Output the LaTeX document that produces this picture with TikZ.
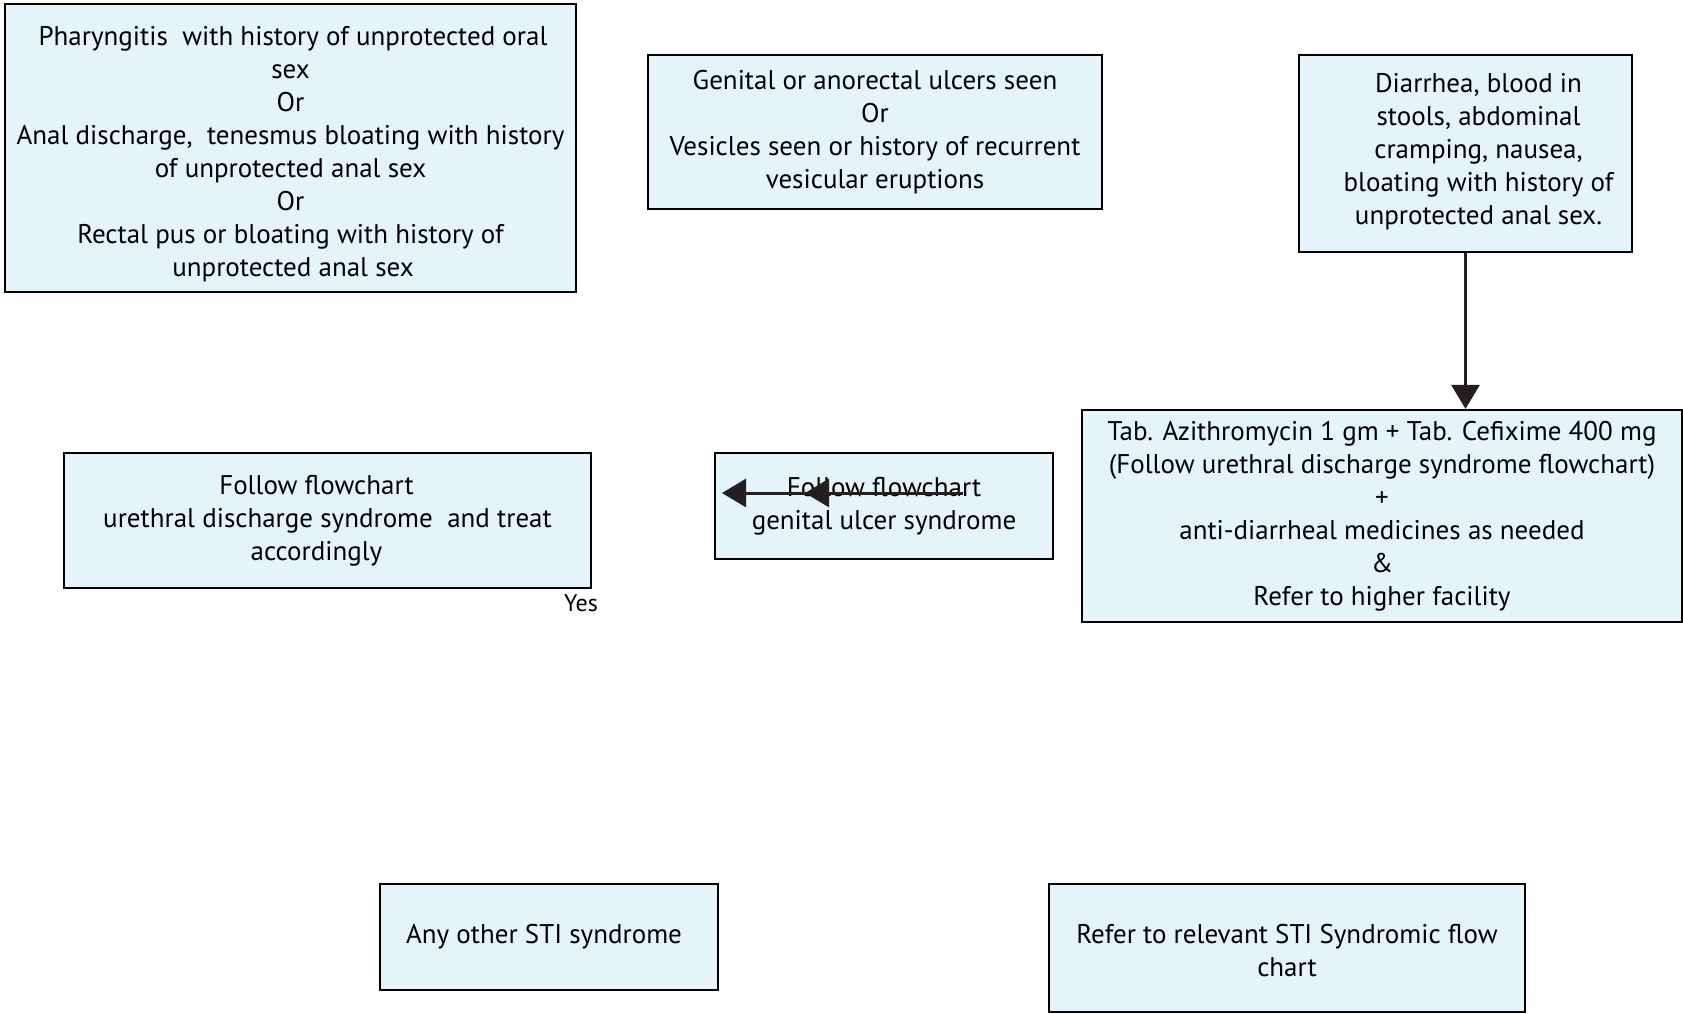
\documentclass[tikz,border=0pt]{standalone}
\usepackage{fontspec}
\setmainfont{PT Sans}
\usetikzlibrary{arrows.meta}
\definecolor{boxblue}{HTML}{E4F4FA}
\definecolor{inkdark}{HTML}{231F20}
\begin{document}
\begin{tikzpicture}[x=1pt,y=-1pt,
  box/.style={draw=black, line width=2.2pt, fill=boxblue, align=center, inner sep=0pt,
    font=\fontsize{27}{33}\selectfont, text=black},
  conn/.style={draw=inkdark, line width=3pt, -{Triangle[length=24pt,width=28pt]}},
  lbl/.style={font=\fontsize{24}{28}\selectfont, inner sep=0pt}]
\useasboundingbox (0,0) rectangle (1683,1013);
\fill[white] (0,0) rectangle (1683,1013);

\node[box, minimum width=571pt, minimum height=288pt] (pharyn) at (290.5,148)
  {\rule{0pt}{31pt}Pharyngitis\ \ with history of unprotected oral\hspace*{-5pt}\\ sex\hspace*{-5pt}\\ Or\hspace*{-5pt}\\
   Anal discharge,\ \ tenesmus bloating with history\hspace*{-5pt}\\ of unprotected anal sex\hspace*{-5pt}\\ Or\hspace*{-5pt}\\
   Rectal pus or bloating with history of\hspace*{-5pt}\\ unprotected anal sex\hspace*{-5pt}};

\node[box, minimum width=454pt, minimum height=154pt] (ulcer) at (875,132)
  {Genital or anorectal ulcers seen\\ Or\\ Vesicles seen or history of recurrent\\ vesicular eruptions};

\node[box, minimum width=333pt, minimum height=197pt] (diarr) at (1465.5,153.5)
  {\hspace*{26pt}Diarrhea, blood in\\ \hspace*{26pt}stools, abdominal\\ \hspace*{26pt}cramping, nausea,\\
   \hspace*{26pt}bloating with history of\\ \hspace*{26pt}unprotected anal sex.\\[-24pt]\mbox{}};

\node[box, minimum width=600pt, minimum height=212pt] (azith) at (1382,516)
  {Tab. Azithromycin 1 gm + Tab. Cefixime 400 mg\\ (Follow urethral discharge syndrome flowchart)\\ +\\
   anti-diarrheal medicines as needed\\ \&\\ Refer to higher facility};

\node[box, minimum width=527pt, minimum height=135pt] (uds) at (327.5,520.5)
  {Follow flowchart\hspace*{22pt}\\ urethral discharge syndrome\ \ and treat\hspace*{22pt}\\ accordingly\hspace*{22pt}};

\node[box, minimum width=338pt, minimum height=106pt] (gus) at (884,506)
  {Follow flowchart\\ genital ulcer syndrome};

\node[box, minimum width=338pt, minimum height=106pt] (other) at (549,937)
  {Any other STI syndrome\hspace*{10pt}};

\node[box, minimum width=476pt, minimum height=128pt] (refer) at (1287,948)
  {\\[-8pt]Refer to relevant STI Syndromic flow\\ chart};

\node[lbl, anchor=north west] (yes) at (564,594) {Yes};

\draw[conn] (diarr.south) -- (diarr.south |- azith.north);

\coordinate (gstart) at (963,493);
\coordinate (gmid) at (805,493);
\coordinate (gend) at (722,493);
\draw[conn] (gstart) -- (gend);
\draw[conn] (gstart) -- (gmid);
\end{tikzpicture}
\end{document}
